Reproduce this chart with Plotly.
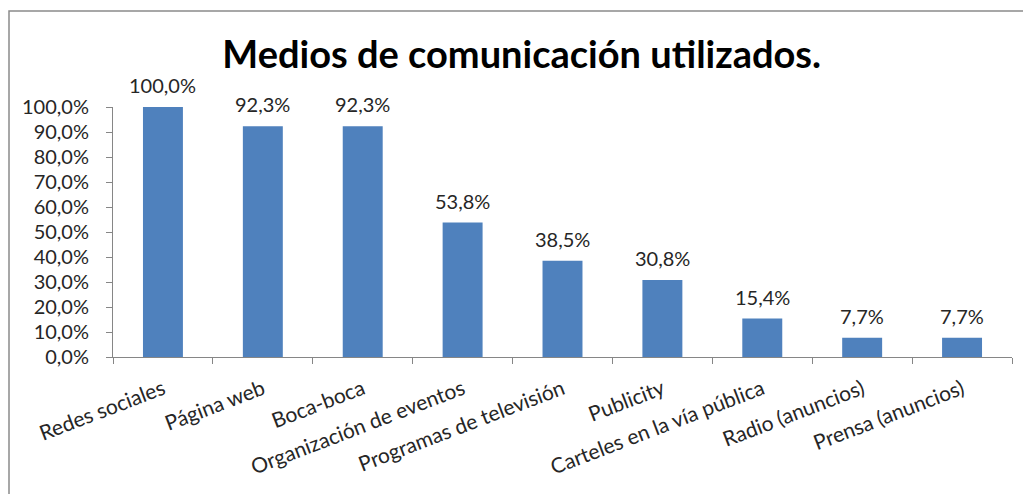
import plotly.graph_objects as go

categories = ["Redes sociales", "Página web", "Boca-boca", "Organización de eventos",
              "Programas de televisión", "Publicity", "Carteles en la vía pública",
              "Radio (anuncios)", "Prensa (anuncios)"]
values = [1.000, 0.923, 0.923, 0.538, 0.385, 0.308, 0.154, 0.077, 0.077]
y_ticks = [0, 0.1, 0.2, 0.3, 0.4, 0.5, 0.6, 0.7, 0.8, 0.9, 1.0]

W, H = 1023, 494
L, R, T, B = 113, 11, 107, 137
pw, ph = W - L - R, H - T - B

font = "Lato, Calibri, 'Open Sans', sans-serif"
tcol = "#262626"

fig = go.Figure(go.Bar(
    x=categories, y=values, width=0.4,
    marker=dict(color="#4F81BD", line=dict(width=0)),
))

for c, v in zip(categories, values):
    fig.add_annotation(x=c, y=v, text=f"{v*100:.1f}%".replace(".", ","),
                       showarrow=False, yanchor="bottom", yshift=8,
                       font=dict(family=font, size=20, color=tcol))

fig.update_layout(
    width=W, height=H, separators=",.",
    margin=dict(l=L, r=R, t=T, b=B),
    paper_bgcolor="white", plot_bgcolor="white",
    showlegend=False,
    title=dict(text="<b>Medios de comunicación utilizados.</b>", x=0.51, xanchor="center",
               y=1 - 55 / H, yanchor="middle",
               font=dict(family=font, size=38, color="#000000")),
    xaxis=dict(showline=True, linecolor="#868686", linewidth=1,
               ticks="outside", ticklen=6, tickcolor="#868686", tickson="boundaries",
               tickangle=-21, ticklabelstandoff=11,
               tickfont=dict(family=font, size=21, color=tcol),
               showgrid=False),
    yaxis=dict(range=[0, 1], tickvals=y_ticks, tickformat=".1%",
               showline=True, linecolor="#868686", linewidth=1,
               ticks="outside", ticklen=6, tickcolor="#868686", ticklabelstandoff=13,
               tickfont=dict(family=font, size=20, color=tcol),
               showgrid=False, zeroline=False),
    shapes=[dict(type="rect", xref="paper", yref="paper",
                 x0=(9 - L) / pw, x1=(W + 20 - L) / pw,
                 y0=-(H + 20 - (H - B)) / ph, y1=((H - B) - 11) / ph,
                 line=dict(color="#8a8a8a", width=1.5), fillcolor="rgba(0,0,0,0)")],
)

fig.write_html("out.html")
